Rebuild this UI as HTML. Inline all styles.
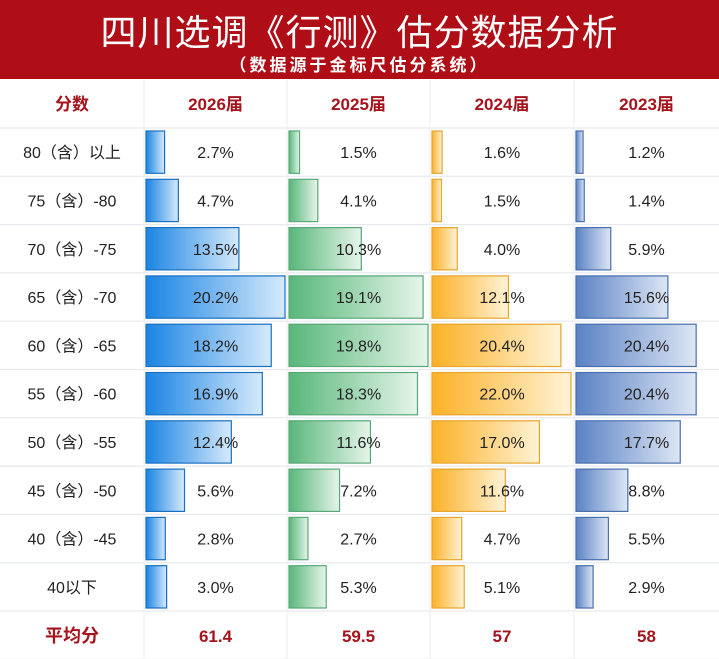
<!DOCTYPE html>
<html><head><meta charset="utf-8"><style>
body{margin:0;width:719px;height:659px;overflow:hidden;background:#fff;font-family:"Liberation Sans","Noto Sans CJK SC",sans-serif;}
#title{position:absolute;left:0;top:0;width:719px;height:79px;background:#b00e17;color:#fff;text-align:center;}
#title .t{position:absolute;left:0;right:0;top:4px;font-size:36px;letter-spacing:1px;font-family:"Noto Sans CJK SC",sans-serif;}
#title .s{position:absolute;left:0;right:0;top:51px;font-size:17px;letter-spacing:3px;font-weight:bold;font-family:"Noto Sans CJK SC",sans-serif;}
svg{position:absolute;left:0;top:0;}
</style></head><body>
<div id="title"><div class="t">四川选调《行测》估分数据分析</div><div class="s">（数据源于金标尺估分系统）</div></div>
<svg id="chart" width="719" height="659"></svg>
<script>
const categories=["80（含）以上","75（含）-80","70（含）-75","65（含）-70","60（含）-65","55（含）-60","50（含）-55","45（含）-50","40（含）-45","40以下"];
const years=["2026届","2025届","2024届","2023届"];
const s2026=[2.7,4.7,13.5,20.2,18.2,16.9,12.4,5.6,2.8,3.0];
const s2025=[1.5,4.1,10.3,19.1,19.8,18.3,11.6,7.2,2.7,5.3];
const s2024=[1.6,1.5,4.0,12.1,20.4,22.0,17.0,11.6,4.7,5.1];
const s2023=[1.2,1.4,5.9,15.6,20.4,20.4,17.7,8.8,5.5,2.9];
const averages=["61.4","59.5","57","58"];
const domains=[20.2,19.8,22.0,23.6];
const series=[s2026,s2025,s2024,s2023];
const cols=[["#1a84e3","#d6eafc","#1a6fc0"],["#58b77a","#e6f5ea","#5aa77a"],["#fbb126","#fff3d6","#e6a630"],["#5a82c4","#dde6f4","#4a6fae"]];
const NS="http://www.w3.org/2000/svg";
const svg=document.getElementById('chart');
function mk(t,a,p){const e=document.createElementNS(NS,t);for(const k in a)e.setAttribute(k,a[k]);(p||svg).appendChild(e);return e;}
const colX=[0,144,287,430,574,719];
const top0=80,headH=48,rowH=48.3;
const rowY=i=>top0+headH+i*rowH;
const xScale=(c,v)=>v/domains[c]*139;
const defs=mk('defs',{});
cols.forEach((c,i)=>{const g=mk('linearGradient',{id:'g'+i,x1:0,x2:1,y1:0,y2:0},defs);mk('stop',{offset:0,'stop-color':c[0]},g);mk('stop',{offset:1,'stop-color':c[1]},g);});
for(let i=0;i<=11;i++){const y=i==0?top0+headH:rowY(i);mk('line',{x1:0,x2:719,y1:y,y2:y,stroke:'#e6eaee','stroke-width':1.2});}
for(let j=1;j<5;j++){mk('line',{x1:colX[j],x2:colX[j],y1:top0,y2:659,stroke:'#eceff2','stroke-width':1.2});}
let h=mk('text',{x:72,y:top0+30,'text-anchor':'middle','font-size':17,'font-weight':'bold',fill:'#a5141c'});h.textContent='分数';


years.forEach((y,j)=>{const t=mk('text',{x:(colX[j+1]+colX[j+2])/2,y:top0+30,'text-anchor':'middle','font-size':17,'font-weight':'bold',fill:'#a5141c'});t.textContent=y;

});
categories.forEach((c,i)=>{const y=rowY(i);
const t=mk('text',{x:72,y:y+rowH/2+6,'text-anchor':'middle','font-size':16,fill:'#222'});t.textContent=c;


series.forEach((s,j)=>{const x0=colX[j+1]+2;const w=xScale(j,s[i]);
const r=mk('rect',{x:x0,y:y+3,width:w,height:rowH-6,fill:'url(#g'+j+')',stroke:cols[j][2],'stroke-width':1.2});


const v=mk('text',{x:(colX[j+1]+colX[j+2])/2,y:y+rowH/2+6,'text-anchor':'middle','font-size':16,fill:'#222'});v.textContent=s[i].toFixed(1)+'%';

});});
const fy=rowY(10)+rowH/2+7;
let f=mk('text',{x:72,y:fy,'text-anchor':'middle','font-size':18,'font-weight':'bold',fill:'#a5141c'});f.textContent='平均分';


averages.forEach((a,j)=>{const t=mk('text',{x:(colX[j+1]+colX[j+2])/2,y:fy,'text-anchor':'middle','font-size':17,'font-weight':'bold',fill:'#a5141c'});t.textContent=a;

});
</script>
</body></html>
